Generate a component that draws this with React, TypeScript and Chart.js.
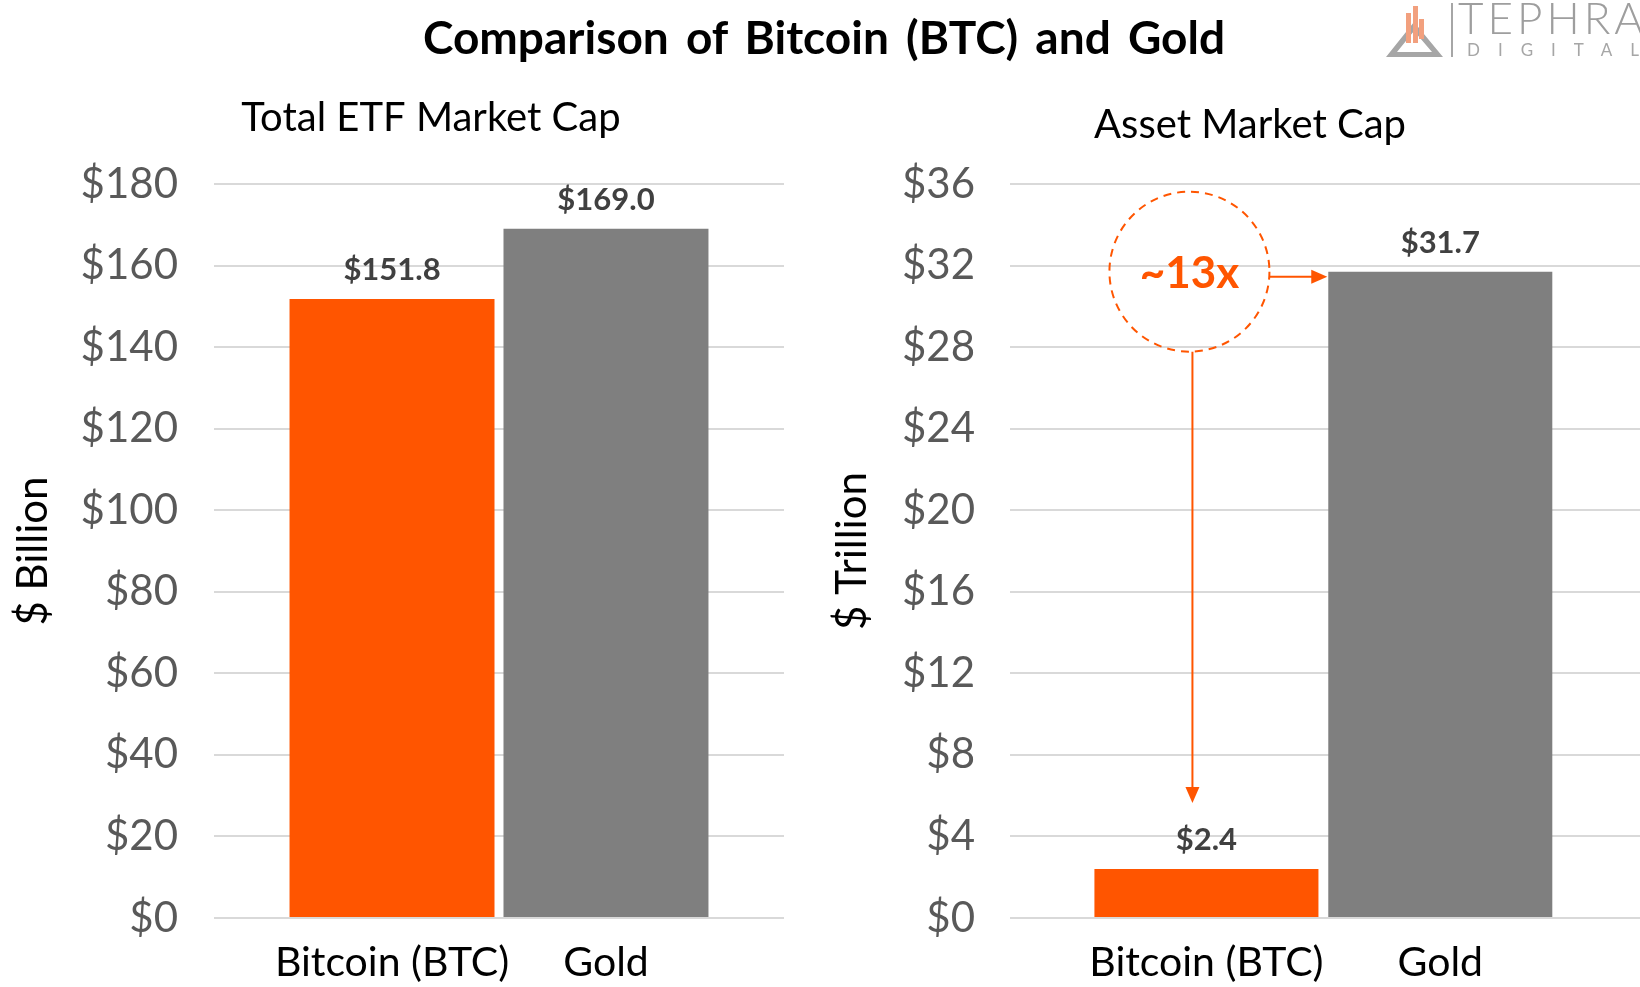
import React, { useEffect, useRef } from 'react';
import { Chart, registerables } from 'chart.js';

Chart.register(...registerables);

// ---------- data ----------
const CATEGORIES = ['Bitcoin (BTC)', 'Gold'];
const ETF_VALUES = [151.8, 169.0]; // $ Billion
const ASSET_VALUES = [2.4, 31.7]; // $ Trillion
const BAR_COLORS = ['#FF5500', '#7F7F7F'];
const ETF_AXIS = { min: 0, max: 180, step: 20 };
const ASSET_AXIS = { min: 0, max: 36, step: 4 };
const MAIN_TITLE = 'Comparison of Bitcoin (BTC) and Gold';
const LEFT_TITLE = 'Total ETF Market Cap';
const RIGHT_TITLE = 'Asset Market Cap';
const LEFT_Y_TITLE = '$ Billion';
const RIGHT_Y_TITLE = '$ Trillion';
const MULTIPLE_LABEL = '~13x';

const ORANGE = '#FF5500';
const FONT = 'Lato, "Noto Sans", sans-serif';

Chart.defaults.font.family = FONT;

const valueLabels = {
  id: 'valueLabels',
  afterDatasetsDraw(chart: any) {
    const { ctx } = chart;
    const meta = chart.getDatasetMeta(0);
    const ds = chart.data.datasets[0];
    ctx.save();
    ctx.font = `bold 31px ${FONT}`;
    ctx.fillStyle = '#404040';
    ctx.textAlign = 'center';
    ctx.textBaseline = 'middle';
    meta.data.forEach((el: any, i: number) => {
      const v = ds.data[i].y as number;
      ctx.fillText('$' + v.toFixed(1), el.x, el.y - 29);
    });
    ctx.restore();
  },
};

function arrowHead(ctx: CanvasRenderingContext2D, x: number, y: number, dir: 'right' | 'down') {
  const L = 16;
  const W = 7;
  ctx.beginPath();
  if (dir === 'right') {
    ctx.moveTo(x, y);
    ctx.lineTo(x - L, y - W);
    ctx.lineTo(x - L, y + W);
  } else {
    ctx.moveTo(x, y);
    ctx.lineTo(x - W, y - L);
    ctx.lineTo(x + W, y - L);
  }
  ctx.closePath();
  ctx.fill();
}

const multipleAnnotation = {
  id: 'multipleAnnotation',
  afterDatasetsDraw(chart: any) {
    const { ctx } = chart;
    const meta = chart.getDatasetMeta(0);
    const btc = meta.data[0];
    const gold = meta.data[1];
    const cx = btc.x - 17;
    const cy = gold.y;
    const r = 80;
    ctx.save();
    ctx.strokeStyle = ORANGE;
    ctx.fillStyle = ORANGE;
    ctx.lineWidth = 2;
    ctx.setLineDash([8, 6]);
    ctx.beginPath();
    ctx.arc(cx, cy, r, 0, Math.PI * 2);
    ctx.stroke();
    ctx.setLineDash([]);
    ctx.font = `bold 44px ${FONT}`;
    ctx.textAlign = 'center';
    ctx.textBaseline = 'middle';
    ctx.fillText(MULTIPLE_LABEL, cx, cy + 2);
    // right arrow to gold bar
    const ay = cy + 5;
    const goldLeft = gold.x - gold.width / 2 - 1;
    ctx.beginPath();
    ctx.moveTo(cx + Math.sqrt(r * r - 25), ay);
    ctx.lineTo(goldLeft - 12, ay);
    ctx.stroke();
    arrowHead(ctx, goldLeft, ay, 'right');
    // down arrow to bitcoin bar label
    const dx = cx + 3;
    const tip = btc.y - 66;
    ctx.beginPath();
    ctx.moveTo(dx, cy + r);
    ctx.lineTo(dx, tip - 12);
    ctx.stroke();
    arrowHead(ctx, dx, tip, 'down');
    ctx.restore();
  },
};

function makeConfig(opts: {
  values: number[];
  axis: { min: number; max: number; step: number };
  title: string;
  titlePadTop: number;
  titlePadBottom: number;
  yTitle: string;
  yTitlePad: number;
  yWidth: number;
  yTickPad: number;
  padLeft: number;
  padRight: number;
  xMin: number;
  xMax: number;
  plugins: any[];
}) {
  return {
    type: 'bar' as const,
    data: {
      datasets: [
        {
          data: opts.values.map((v, i) => ({ x: i, y: v })),
          backgroundColor: BAR_COLORS,
          borderWidth: 0,
          categoryPercentage: 1,
          barPercentage: 0.958,
        },
      ],
    },
    options: {
      responsive: false,
      animation: false as const,
      layout: { padding: { left: opts.padLeft, right: opts.padRight, top: 0, bottom: 0 } },
      plugins: {
        legend: { display: false },
        tooltip: { enabled: false },
        title: {
          display: true,
          text: opts.title,
          color: '#000000',
          font: { size: 40, weight: 'normal' as const, lineHeight: 1.2 },
          padding: { top: opts.titlePadTop, bottom: opts.titlePadBottom },
        },
      },
      scales: {
        x: {
          type: 'linear' as const,
          offset: false,
          min: opts.xMin,
          max: opts.xMax,
          grid: { display: false, drawTicks: false, offset: false },
          border: { display: false },
          afterBuildTicks: (scale: any) => {
            scale.ticks = CATEGORIES.map((_, i) => ({ value: i }));
          },
          afterFit: (scale: any) => {
            scale.height = 69;
          },
          ticks: {
            color: '#000000',
            font: { size: 41, lineHeight: 1.2 },
            padding: 20,
            maxRotation: 0,
            autoSkip: false,
            callback: (v: any) => CATEGORIES[Math.round(v)] ?? '',
          },
        },
        y: {
          min: opts.axis.min,
          max: opts.axis.max,
          grid: { color: '#D9D9D9', lineWidth: 2, drawTicks: false },
          border: { display: false },
          afterFit: (scale: any) => {
            scale.width = opts.yWidth;
          },
          title: {
            display: true,
            text: opts.yTitle,
            color: '#000000',
            font: { size: 42, lineHeight: 1.2 },
            padding: { top: opts.yTitlePad, bottom: 0 },
          },
          ticks: {
            stepSize: opts.axis.step,
            color: '#595959',
            font: { size: 42 },
            padding: opts.yTickPad,
            callback: (v: any) => '$' + v,
          },
        },
      },
    },
    plugins: opts.plugins,
  };
}

function BarChart(props: { config: any; width: number; height: number; left: number }) {
  const ref = useRef<HTMLCanvasElement>(null);
  useEffect(() => {
    if (!ref.current) return;
    const chart = new Chart(ref.current, props.config);
    return () => chart.destroy();
  }, []);
  return (
    <canvas
      ref={ref}
      width={props.width}
      height={props.height}
      style={{ position: 'absolute', left: props.left, top: 0, width: props.width, height: props.height }}
    />
  );
}

function Logo() {
  return (
    <svg
      width={260}
      height={64}
      style={{ position: 'absolute', left: 1380, top: 0 }}
      viewBox="0 0 260 64"
    >
      <path
        d="M6 57 L34 22 L63 57 Z M17 52 L34 31 L52 52 Z"
        fill="#A6A6A6"
        fillRule="evenodd"
      />
      <rect x={26} y={13} width={5} height={30} fill="#F2A07E" />
      <rect x={33} y={6} width={5} height={37} fill="#F2A07E" />
      <rect x={39} y={19} width={5} height={20} fill="#F2A07E" />
      <rect x={71} y={3} width={2} height={54} fill="#A6A6A6" />
      <text
        x={78}
        y={34}
        fill="#9E9E9E"
        fontFamily={FONT}
        fontWeight={300}
        fontSize={44}
        letterSpacing={4}
      >
        TEPHRA
      </text>
      <text
        x={87}
        y={56}
        fill="#A6A6A6"
        fontFamily={FONT}
        fontWeight={400}
        fontSize={17}
        letterSpacing={18}
      >
        DIGITAL
      </text>
    </svg>
  );
}

export default function App() {
  const leftConfig = makeConfig({
    values: ETF_VALUES,
    axis: ETF_AXIS,
    title: LEFT_TITLE,
    titlePadTop: 94,
    titlePadBottom: 42,
    yTitle: LEFT_Y_TITLE,
    yTitlePad: -70,
    yWidth: 136,
    yTickPad: 36,
    padLeft: 78,
    padRight: 16,
    xMin: -0.832,
    xMax: 1.832,
    plugins: [valueLabels],
  });
  const rightConfig = makeConfig({
    values: ASSET_VALUES,
    axis: ASSET_AXIS,
    title: RIGHT_TITLE,
    titlePadTop: 101,
    titlePadBottom: 35,
    yTitle: RIGHT_Y_TITLE,
    yTitlePad: -33,
    yWidth: 150,
    yTickPad: 35,
    padLeft: 60,
    padRight: 0,
    xMin: -0.84,
    xMax: 1.854,
    plugins: [valueLabels, multipleAnnotation],
  });
  return (
    <div
      style={{
        position: 'fixed',
        left: 0,
        top: 0,
        width: 1640,
        height: 987,
        background: '#FFFFFF',
        overflow: 'hidden',
      }}
    >
      <BarChart config={leftConfig} width={800} height={987} left={0} />
      <BarChart config={rightConfig} width={840} height={987} left={800} />
      <div
        style={{
          position: 'absolute',
          left: 824,
          top: 37,
          transform: 'translate(-50%, -50%)',
          whiteSpace: 'nowrap',
          fontFamily: FONT,
          fontWeight: 700,
          fontSize: 46,
          wordSpacing: 6,
          color: '#000000',
          lineHeight: 1,
        }}
      >
        {MAIN_TITLE}
      </div>
      <Logo />
    </div>
  );
}
